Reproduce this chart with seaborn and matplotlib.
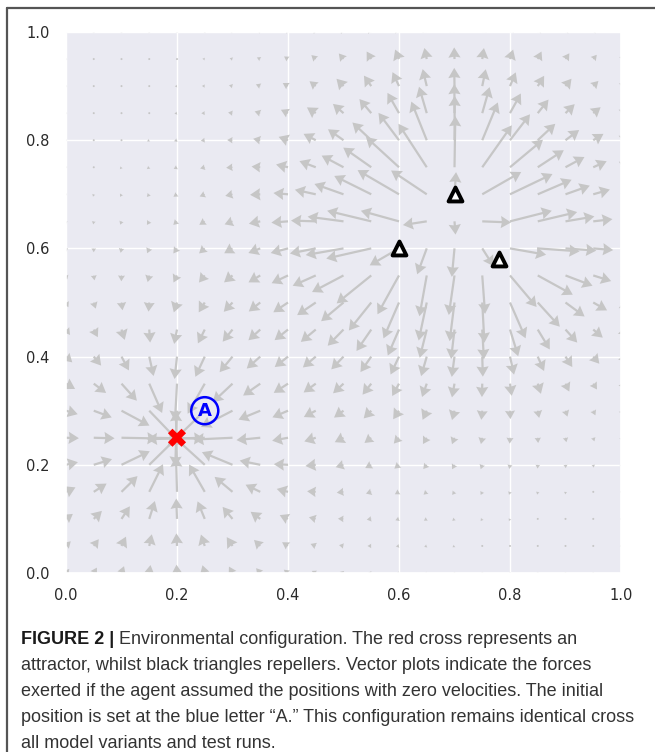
"""
Environmental configuration - force field around one attractor and three repellers.
"""
import numpy as np
import matplotlib
matplotlib.use('Agg')
import matplotlib.pyplot as plt
from matplotlib.lines import Line2D
import seaborn as sns

# ── Data ─────────────────────────────────────────────────────────────────────
ATTRACTOR_X = [0.20]
ATTRACTOR_Y = [0.25]
ATTRACTOR_GAIN = [0.00115]
ATTRACTOR_CORE = [0.066]

REPELLER_X = [0.60, 0.70, 0.78]
REPELLER_Y = [0.60, 0.70, 0.58]
REPELLER_GAIN = [0.000235, 0.000365, 0.000235]
REPELLER_CORE = [0.12, 0.12, 0.12]

START_X, START_Y = 0.25, 0.30          # blue letter "A"
GRID_STEPS = 21                        # field sampled every 0.05 on [0, 1]

TICKS = [0.0, 0.2, 0.4, 0.6, 0.8, 1.0]
TICK_LABELS = ['0.0', '0.2', '0.4', '0.6', '0.8', '1.0']

CAPTION_HEAD = 'FIGURE 2 |'
CAPTION_LINES = [
    ' Environmental configuration. The red cross represents an',
    'attractor, whilst black triangles repellers. Vector plots indicate the forces',
    'exerted if the agent assumed the positions with zero velocities. The initial',
    'position is set at the blue letter \u201cA.\u201d This configuration remains identical cross',
    'all model variants and test runs.',
]

# ── Force field on the sampling grid ─────────────────────────────────────────
g = np.linspace(0, 1, GRID_STEPS)
X, Y = np.meshgrid(g, g)
U = np.zeros_like(X)
V = np.zeros_like(Y)


def add_source(sx, sy, gain, core, power, sign):
    global U, V
    dx, dy = X - sx, Y - sy
    denom = (dx**2 + dy**2 + core**2) ** power
    U = U + sign * gain * dx / denom
    V = V + sign * gain * dy / denom


for sx, sy, k, c in zip(ATTRACTOR_X, ATTRACTOR_Y, ATTRACTOR_GAIN, ATTRACTOR_CORE):
    add_source(sx, sy, k, c, 1.5, -1)
for sx, sy, k, c in zip(REPELLER_X, REPELLER_Y, REPELLER_GAIN, REPELLER_CORE):
    add_source(sx, sy, k, c, 2.0, +1)

# ── Plot ─────────────────────────────────────────────────────────────────────
sns.set_theme(style='darkgrid')
fig = plt.figure(figsize=(6.55, 7.52), dpi=100)
ax = fig.add_axes([66 / 655, 179 / 752, 555 / 655, 541 / 752])

ax.quiver(X, Y, U, V, angles='xy', scale_units='xy', scale=1,
          color='#c6c6c6', width=0.0040, headwidth=5.5, headlength=4.6,
          headaxislength=4.2, zorder=2)

sns.scatterplot(x=ATTRACTOR_X, y=ATTRACTOR_Y, marker='X', s=170, color='red',
                edgecolor='none', ax=ax, zorder=4)
sns.scatterplot(x=REPELLER_X, y=REPELLER_Y, marker='^', s=100, color='white',
                edgecolor='black', linewidth=2.8, ax=ax, zorder=4)
ax.text(START_X, START_Y, 'A', color='blue', fontsize=13, fontweight='bold',
        ha='center', va='center', zorder=5,
        bbox=dict(boxstyle='circle,pad=0.25', fc='none', ec='blue', lw=1.8))

ax.set_xlim(0, 1); ax.set_ylim(0, 1)
ax.set_xticks(TICKS); ax.set_xticklabels(TICK_LABELS)
ax.set_yticks(TICKS); ax.set_yticklabels(TICK_LABELS)
ax.tick_params(labelsize=10.5, labelcolor='#2a2a2a')
ax.tick_params(axis='x', pad=5)
ax.tick_params(axis='y', pad=6)

# page frame (left and top rule of the figure panel)
fig.add_artist(Line2D([7 / 655, 7 / 655], [0, 1 - 8 / 752], color='#555555', lw=1.6))
fig.add_artist(Line2D([7 / 655, 1], [1 - 8 / 752, 1 - 8 / 752], color='#555555', lw=1.6))

# caption
cap_font = ['Liberation Sans Narrow', 'Liberation Sans', 'DejaVu Sans']
x0, y0, dy = 21 / 655, 1 - 639 / 752, 26 / 752
head = fig.text(x0, y0, CAPTION_HEAD, fontsize=13, fontweight='bold',
                family=cap_font, va='center', color='#1a1a1a')
fig.canvas.draw()
bb = head.get_window_extent(fig.canvas.get_renderer())
fig.text(bb.x1 / fig.bbox.width, y0, CAPTION_LINES[0], fontsize=13,
         family=cap_font, va='center', color='#333333')
for i, line in enumerate(CAPTION_LINES[1:], start=1):
    fig.text(x0, y0 - i * dy, line, fontsize=13, family=cap_font,
             va='center', color='#333333')

plt.savefig('out.png', dpi=100)
plt.close()
